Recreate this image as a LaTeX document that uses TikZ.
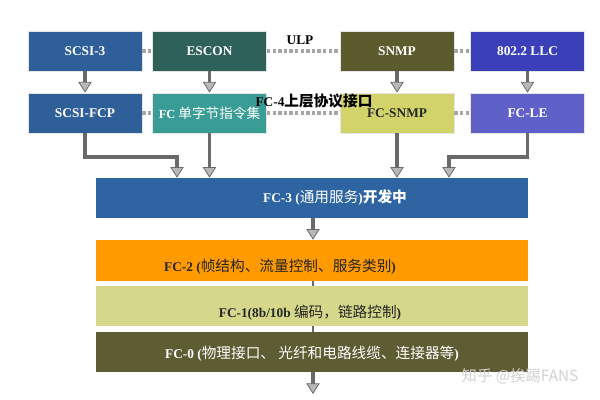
\documentclass[tikz,border=0pt]{standalone}
\usepackage{fontspec}
\setmainfont{Liberation Serif}
\newfontfamily\cjk{Noto Sans CJK SC}[Scale=1.1]
\newfontfamily\wmfont{Noto Sans CJK SC}
\usetikzlibrary{arrows.meta,calc}
\definecolor{cblue}{HTML}{2F5F98}
\definecolor{cteal}{HTML}{2F615B}
\definecolor{cteal2}{HTML}{3A9D95}
\definecolor{colive}{HTML}{5C5B2E}
\definecolor{cyell}{HTML}{D3D36B}
\definecolor{cllc}{HTML}{3B40B8}
\definecolor{cfcle}{HTML}{5F61C8}
\definecolor{cfc3}{HTML}{2F64A2}
\definecolor{corange}{HTML}{FF9A00}
\definecolor{cfc1}{HTML}{D5D78A}
\definecolor{cfc0}{HTML}{5D5C33}
\definecolor{cline}{HTML}{6A6A6A}
\definecolor{chead}{HTML}{B8B8B8}
\tikzset{
  box/.style={draw=white!80!gray, line width=0.6pt, minimum width=85.5pt, minimum height=30pt, inner sep=0pt, font=\bfseries\fontsize{10}{12}\selectfont},
  layer/.style={minimum width=324pt, minimum height=30pt, inner sep=0pt},
  lbl/.style={inner sep=0pt, font=\bfseries\fontsize{10}{12}\selectfont},
  arr/.style={draw=cline, line width=2.8pt, -{Triangle[width=10pt,length=8pt,fill=chead,line width=0.6pt]}},
  thin/.style={draw=cline, line width=1.8pt},
  dots/.style={draw=gray!70, line width=3pt, dash pattern=on 2.6pt off 1.6pt},
}
\newcommand{\zh}[1]{{\cjk\mdseries #1}}
\newcommand{\zhb}[1]{{\cjk\bfseries #1}}
\begin{document}
\begin{tikzpicture}[x=0.75pt,y=-0.75pt]
\useasboundingbox[fill=white] (0,0) rectangle (600,400);
% top row
\node[box, fill=cblue, text=white] (scsi3) at (85,51) {SCSI-3};
\node[box, fill=cteal, text=white] (escon) at (209.5,51) {ESCON};
\node[box, fill=colive, text=white] (snmp) at (397,51) {SNMP};
\node[box, fill=cllc, text=white] (llc) at (527.5,51) {802.2 LLC};
% second row
\node[box, fill=cblue, text=white] (scsifcp) at (85,113) {SCSI-FCP};
\node[box, fill=cteal2, text=white, font=\bfseries\fontsize{9.3}{11}\selectfont] (fcsb) at (209.5,113) {FC \zh{单字节指令集}};
\node[box, fill=cyell, text=black!85] (fcsnmp) at (397,113) {FC-SNMP};
\node[box, fill=cfcle, text=white] (fcle) at (527.5,113) {FC-LE};
% dotted connectors
\draw[dots] (scsi3.east) -- (escon.west);
\draw[dots] (escon.east) -- (snmp.west);
\draw[dots] (snmp.east) -- (llc.west);
\draw[dots] (scsifcp.east) -- (fcsb.west);
\draw[dots] (fcsb.east) -- (fcsnmp.west);
\draw[dots] (fcsnmp.east) -- (fcle.west);
\node[lbl] (ulp) at (300,40) {ULP};
\node[lbl] (fc4) at (314,101) {FC-4\zhb{上层协议接口}};
% layers
\node[layer, fill=cfc3] (fc3) at (312,198) {};
\node[lbl, text=white] (fc3t) at (335,198) {FC-3 (\zh{通用服务})\zhb{开发中}};
\node[layer, fill=corange, minimum height=30.75pt] (fc2) at (312,260.5) {};
\node[lbl, text=black!85] (fc2t) at (280,267) {FC-2 (\zh{帧结构、流量控制、服务类别})};
\node[layer, fill=cfc1] (fc1) at (312,306) {};
\node[lbl, text=black!85] (fc1t) at (310,313) {FC-1(8b/10b \zh{编码，链路控制})};
\node[layer, fill=cfc0] (fc0) at (312,352) {};
\node[lbl, text=white] (fc0t) at (312,354) {FC-0 (\zh{物理接口、 光纤和电路线缆、连接器等})};
% arrows row1 -> row2
\draw[arr] (scsi3) -- (scsifcp);
\draw[arr] (escon) -- (fcsb);
\draw[arr] (snmp) -- (fcsnmp);
\draw[arr] (llc) -- (fcle);
% arrows row2 -> FC-3
\coordinate (k1) at (177,157);
\coordinate (k2) at (449,157);
\draw[arr] (scsifcp.south) |- (k1) -- (k1 |- fc3.north);
\draw[arr] (fcsb.south) -- (fcsb.south |- fc3.north);
\draw[arr] (fcsnmp.south) -- (fcsnmp.south |- fc3.north);
\draw[arr] (fcle.south) |- (k2) -- (k2 |- fc3.north);
% layer links
\coordinate (c3) at (313,0);
\draw[arr] (c3 |- fc3.south) -- (c3 |- fc2.north);
\draw[thin] (c3 |- fc2.south) -- (c3 |- fc1.north);
\draw[thin] (c3 |- fc1.south) -- (c3 |- fc0.north);
\coordinate (end) at (313,394);
\draw[arr] (c3 |- fc0.south) -- (end);
% watermark
\node[inner sep=0pt, text=gray!35, font=\wmfont\fontsize{11.5}{13}\selectfont] (wm) at (520,376) {知乎 @挨踢FANS};
\end{tikzpicture}
\end{document}
